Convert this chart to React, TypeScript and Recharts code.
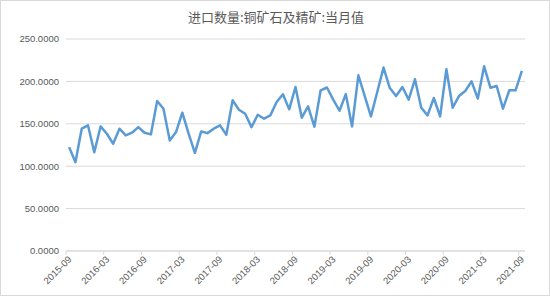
import { CartesianGrid, Line, LineChart, XAxis, YAxis } from "recharts";

const months = [
  "2015-09", "2015-10", "2015-11", "2015-12",
  "2016-01", "2016-02", "2016-03", "2016-04", "2016-05", "2016-06", "2016-07", "2016-08", "2016-09", "2016-10", "2016-11", "2016-12",
  "2017-01", "2017-02", "2017-03", "2017-04", "2017-05", "2017-06", "2017-07", "2017-08", "2017-09", "2017-10", "2017-11", "2017-12",
  "2018-01", "2018-02", "2018-03", "2018-04", "2018-05", "2018-06", "2018-07", "2018-08", "2018-09", "2018-10", "2018-11", "2018-12",
  "2019-01", "2019-02", "2019-03", "2019-04", "2019-05", "2019-06", "2019-07", "2019-08", "2019-09", "2019-10", "2019-11", "2019-12",
  "2020-01", "2020-02", "2020-03", "2020-04", "2020-05", "2020-06", "2020-07", "2020-08", "2020-09", "2020-10", "2020-11", "2020-12",
  "2021-01", "2021-02", "2021-03", "2021-04", "2021-05", "2021-06", "2021-07", "2021-08", "2021-09"
];

// 进口数量:铜矿石及精矿:当月值 (万吨)
const importVolume = [
  122.5, 104.7, 144.2, 148.1,
  116.5, 146.9, 138.3, 126.5, 144.2, 136.3, 139.5, 146.1, 139.5, 137.5, 176.8, 167.8,
  130.4, 140.2, 163.1, 138.3, 115.8, 141.0, 139.0, 144.2, 148.1, 137.1, 177.7, 166.5,
  161.9, 146.1, 160.7, 156.0, 159.9, 175.7, 184.8, 167.0, 193.4, 157.2, 170.6, 146.6,
  189.5, 192.8, 178.5, 165.4, 185.0, 146.9, 207.2, 183.0, 158.7, 187.5, 216.3, 192.2,
  182.7, 193.4, 178.5, 202.5, 169.0, 159.9, 180.4, 158.7, 214.3, 169.0, 182.7, 188.7,
  200.1, 179.7, 217.8, 192.6, 194.6, 167.8, 189.5, 189.5, 212.3
];

const yTicks = [0, 50, 100, 150, 200, 250];

const title = "进口数量:铜矿石及精矿:当月值";

const data = months.map((month, i) => ({ month, value: importVolume[i] }));

const HALF_BAND = 3.15;

function MonthTick({ x, y, payload }: any) {
  const edge = x - HALF_BAND;
  return (
    <g>
      <line x1={edge} x2={edge} y1={y} y2={y + 4} stroke="#d9d9d9" />
      <text
        x={x + 3}
        y={y + 9}
        textAnchor="end"
        fill="#595959"
        fontSize={9.5}
        fontFamily="Liberation Sans, Arial, sans-serif"
        transform={`rotate(-45 ${x + 3} ${y + 9})`}
      >
        {payload.value}
      </text>
    </g>
  );
}

export default function App() {
  return (
    <div
      style={{
        position: "absolute",
        left: 0,
        top: 0,
        width: 550,
        height: 296,
        boxSizing: "border-box",
        border: "1px solid #d9d9d9",
        background: "#fff"
      }}
    >
      <div
        style={{
          position: "absolute",
          left: 0,
          top: 6,
          width: 550,
          textAlign: "center",
          fontSize: 13,
          color: "#595959",
          fontFamily: "Noto Sans CJK SC, sans-serif"
        }}
      >
        {title}
      </div>
      <div style={{ position: "absolute", left: -1, top: -1 }}>
        <LineChart
          width={550}
          height={296}
          data={data}
          margin={{ top: 39, right: 25, bottom: 0, left: 0 }}
        >
          <CartesianGrid vertical={false} stroke="#d9d9d9" />
          <XAxis
            dataKey="month"
            interval={5}
            height={45}
            padding={{ left: HALF_BAND, right: HALF_BAND }}
            axisLine={{ stroke: "#d9d9d9" }}
            tickLine={false}
            tickSize={0}
            tickMargin={0}
            tick={<MonthTick />}
          />
          <YAxis
            width={66}
            domain={[0, 250]}
            ticks={yTicks}
            axisLine={false}
            tickLine={false}
            tickSize={0}
            tickMargin={7}
            tickFormatter={(v: number) => v.toFixed(4)}
            tick={{ fontSize: 9.5, fill: "#595959", fontFamily: "Liberation Sans, Arial, sans-serif" }}
          />
          <Line
            dataKey="value"
            stroke="#5b9bd5"
            strokeWidth={2.5}
            strokeLinejoin="round"
            dot={false}
            activeDot={false}
            isAnimationActive={false}
          />
        </LineChart>
      </div>
    </div>
  );
}
